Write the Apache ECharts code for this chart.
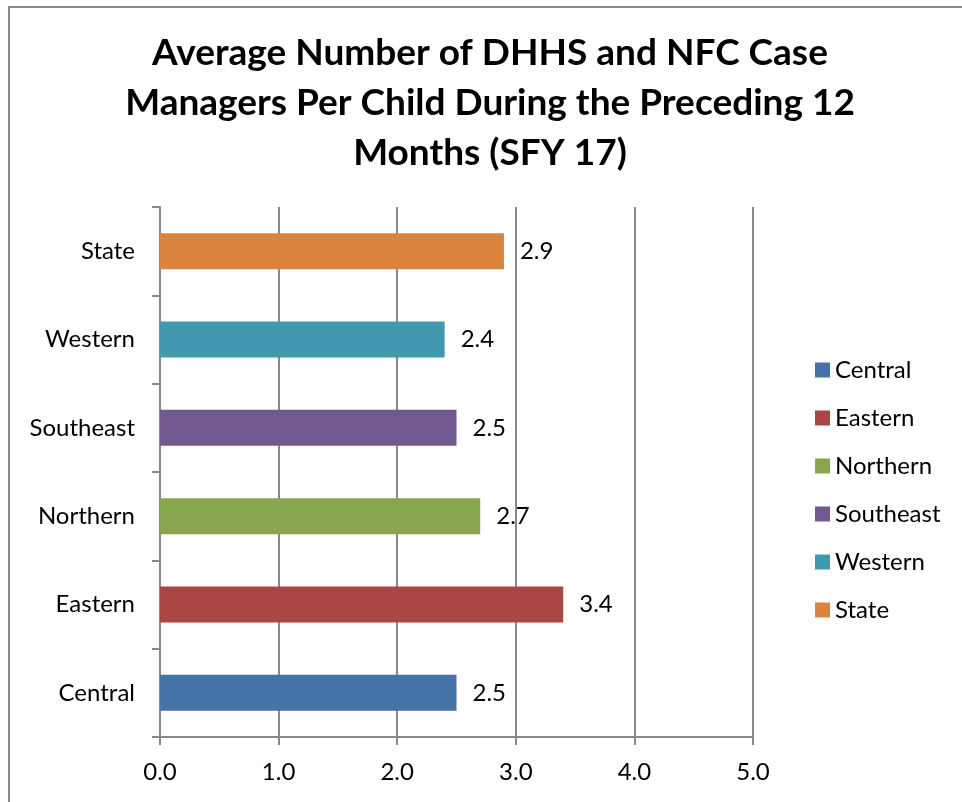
<!DOCTYPE html>
<html><head><meta charset="utf-8">
<script src="https://cdn.jsdelivr.net/npm/echarts@6/dist/echarts.min.js"></script>
<style>html,body{margin:0;padding:0;background:#fff}#c{width:962px;height:802px}</style>
</head><body><div id="c"></div>
<script>
const titleText = 'Average Number of DHHS and NFC Case\nManagers Per Child During the Preceding 12\nMonths (SFY 17)';
const categories = ['Central', 'Eastern', 'Northern', 'Southeast', 'Western', 'State'];
const values = [2.5, 3.4, 2.7, 2.5, 2.4, 2.9];
const colors = ['#4572A7', '#AA4643', '#89A54E', '#71588F', '#4198AF', '#DB843D'];
const xTicks = [0, 1, 2, 3, 4, 5];

const FONT = 'Lato';
const FS = 24;
const series = categories.map((name, i) => ({
  name: name,
  type: 'bar',
  stack: 'all',
  barWidth: 36,
  itemStyle: { color: colors[i] },
  label: {
    show: true, position: 'right', distance: 16,
    fontFamily: FONT, fontSize: FS, color: '#000',
    formatter: p => p.value == null ? '' : Number(p.value).toFixed(1)
  },
  data: categories.map((c, j) => j === i ? values[i] : null)
}));

const chart = echarts.init(document.getElementById('c'));
chart.setOption({
  animation: false,
  textStyle: { fontFamily: FONT },
  graphic: [{
    type: 'rect', shape: { x: 9, y: 7, width: 1000, height: 900 },
    style: { fill: 'none', stroke: '#888', lineWidth: 2 }, silent: true
  }, {
    type: 'text', x: 490, y: 28, silent: true,
    style: {
      text: titleText, align: 'center', verticalAlign: 'top',
      font: 'bold 37px Lato', lineHeight: 50, fill: '#000'
    }
  }],
  legend: {
    orient: 'vertical', left: 810, top: 353,
    itemWidth: 15, itemHeight: 15, itemGap: 24, icon: 'rect',
    textStyle: { fontFamily: FONT, fontSize: FS, color: '#000', lineHeight: 24 },
    data: categories
  },
  grid: { left: 160, right: 209, top: 207, bottom: 65, containLabel: false },
  xAxis: {
    type: 'value', min: xTicks[0], max: xTicks[xTicks.length - 1], interval: 1,
    axisLine: { show: true, lineStyle: { color: '#888', width: 2 } },
    axisTick: { show: true, length: 8, lineStyle: { color: '#888', width: 2 } },
    splitLine: { show: true, lineStyle: { color: '#888', width: 2 } },
    axisLabel: { fontFamily: FONT, fontSize: FS, color: '#000', margin: 23, formatter: v => v.toFixed(1) }
  },
  yAxis: {
    type: 'category', data: categories,
    axisLine: { show: true, lineStyle: { color: '#888', width: 2 } },
    axisTick: { show: true, length: 8, lineStyle: { color: '#888', width: 2 } },
    axisLabel: { fontFamily: FONT, fontSize: FS, color: '#000', margin: 25 }
  },
  series: series
});
</script></body></html>
